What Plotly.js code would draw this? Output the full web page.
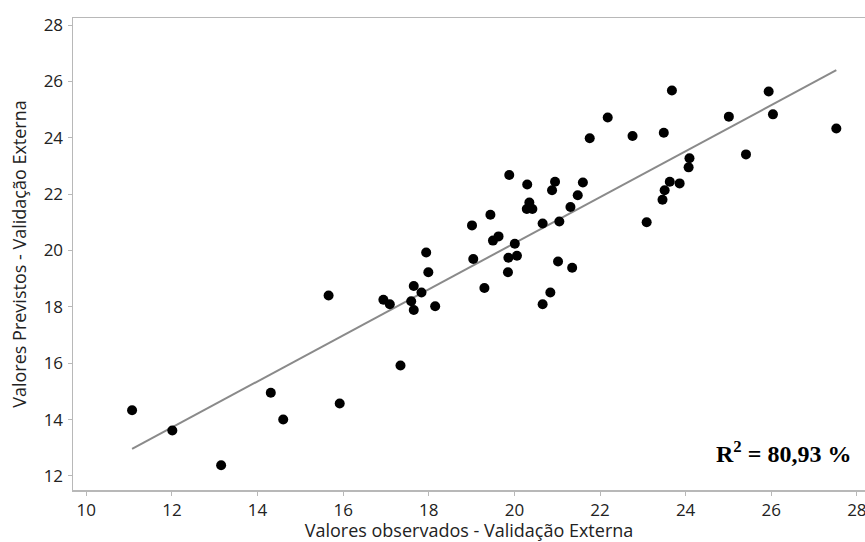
<!DOCTYPE html>
<html>
<head>
<meta charset="utf-8">
<script src="https://cdn.plot.ly/plotly-3.0.1.min.js"></script>
<style>html,body{margin:0;padding:0;background:#fff;}#chart{width:865px;height:542px;}</style>
</head>
<body>
<div id="chart"></div>
<script>
var observados = [11.07, 12.01, 13.15, 14.31, 14.60, 15.66, 15.92, 17.34, 16.94, 17.09,
  17.59, 17.65, 17.65, 17.83, 17.94, 17.99, 18.15, 19.01, 19.04, 19.30,
  19.44, 19.50, 19.63, 19.88, 19.86, 19.85, 20.01, 20.06, 20.30, 20.35,
  20.29, 20.42, 20.66, 20.66, 20.84, 20.88, 20.95, 21.02, 21.05, 21.31,
  21.35, 21.48, 21.60, 21.76, 22.18, 22.76, 23.09, 23.46, 23.49, 23.51,
  23.63, 23.68, 23.86, 24.07, 24.09, 25.01, 25.41, 25.94, 26.04, 27.52];
var previstos = [14.33, 13.61, 12.38, 14.95, 14.00, 18.40, 14.57, 15.92, 18.25, 18.09,
  18.20, 17.89, 18.74, 18.51, 19.93, 19.23, 18.02, 20.89, 19.70, 18.67,
  21.27, 20.35, 20.50, 22.68, 19.74, 19.23, 20.24, 19.81, 22.34, 21.70,
  21.47, 21.47, 20.96, 18.09, 18.51, 22.14, 22.44, 19.61, 21.03, 21.54,
  19.39, 21.96, 22.41, 23.98, 24.72, 24.06, 21.00, 21.80, 24.18, 22.14,
  22.44, 25.68, 22.38, 22.95, 23.27, 24.75, 23.41, 25.64, 24.83, 24.33];
// Fitted line end points
var ajusteX = [11.07, 27.52];
var ajusteY = [12.96, 26.40];
var tickVals = [10, 12, 14, 16, 18, 20, 22, 24, 26, 28];
var yTickVals = [12, 14, 16, 18, 20, 22, 24, 26, 28];
var r2Texto = 'R<sup>2</sup> = 80,93 %';

var traces = [
  {x: ajusteX, y: ajusteY, type: 'scatter', mode: 'lines',
   line: {color: '#8a8a8a', width: 2}, hoverinfo: 'skip', showlegend: false},
  {x: observados, y: previstos, type: 'scatter', mode: 'markers',
   marker: {color: '#000000', size: 10}, showlegend: false}
];

var axisFont = {family: 'Open Sans, sans-serif', size: 17, color: '#222222'};
var layout = {
  width: 865, height: 542,
  margin: {l: 73, r: 0, t: 18, b: 52},
  paper_bgcolor: '#ffffff', plot_bgcolor: '#ffffff',
  font: axisFont,
  xaxis: {
    range: [9.69, 28.19], tickvals: tickVals, ticktext: tickVals.map(String),
    showgrid: false, zeroline: false,
    showline: true, mirror: true, linecolor: '#b8b8b8', linewidth: 1.5,
    ticks: 'outside', ticklen: 4, tickcolor: '#b8b8b8', tickwidth: 1,
    tickfont: axisFont, ticklabeloverflow: 'allow', ticklabelstandoff: 0,
    title: {text: 'Valores observados - Validação Externa', font: {family: 'Open Sans, sans-serif', size: 18, color: '#222222'}, standoff: 8}
  },
  yaxis: {
    range: [11.50, 28.25], tickvals: yTickVals, ticktext: yTickVals.map(String),
    showgrid: false, zeroline: false,
    showline: true, linecolor: '#b8b8b8', linewidth: 1.5,
    ticks: 'outside', ticklen: 4, tickcolor: '#b8b8b8', tickwidth: 1,
    tickfont: axisFont, ticklabelstandoff: 1,
    title: {text: 'Valores Previstos - Validação Externa', font: {family: 'Open Sans, sans-serif', size: 18, color: '#222222'}, standoff: 12}
  },
  annotations: [{
    xref: 'paper', yref: 'paper', x: 0.985, y: 0.08, xanchor: 'right', yanchor: 'middle',
    text: r2Texto, showarrow: false,
    font: {family: 'Liberation Serif, Times New Roman, serif', size: 24, color: '#000000', weight: 'bold'}
  }]
};

Plotly.newPlot('chart', traces, layout, {displayModeBar: false, staticPlot: true});
</script>
</body>
</html>
